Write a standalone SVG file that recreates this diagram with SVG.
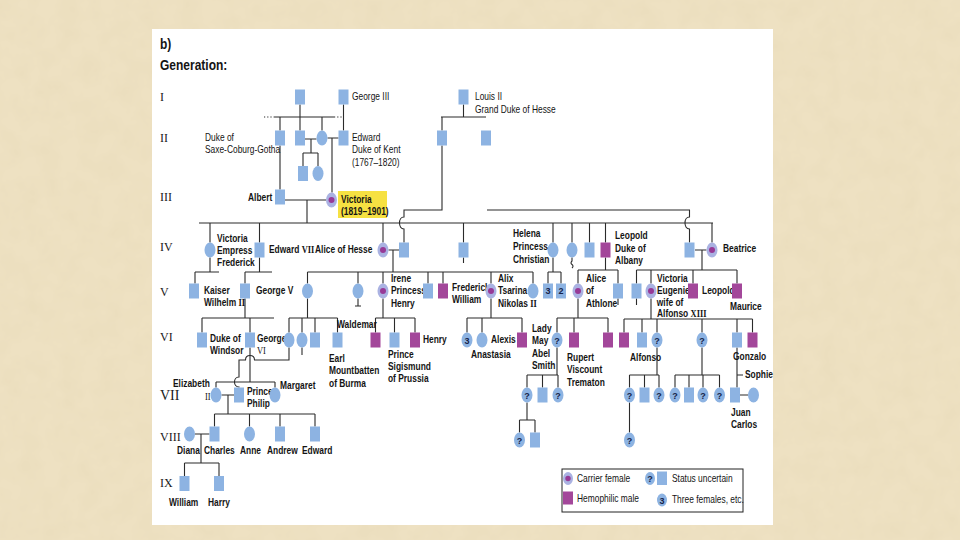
<svg xmlns="http://www.w3.org/2000/svg" width="960" height="540" viewBox="0 0 960 540">
<defs>
<style>
.bg{fill:#eee1c2}
.panel{fill:#fff}
.ln{fill:none;stroke:#2b2b2b;stroke-width:1.1}
.dot{fill:none;stroke:#2b2b2b;stroke-width:1.1;stroke-dasharray:1.2 2}
.sq{fill:#8db3e2}
.hm{fill:#a3479a}
.fe{fill:#8db3e2}
.ca{fill:#aab2e2}
.cd{fill:#973a97}
.t{font-family:"Liberation Sans",Arial,sans-serif;font-size:10.5px;fill:#141414;transform:scaleX(.8);transform-box:fill-box;transform-origin:0 0}
.b{font-weight:bold}
.r{font-family:"Liberation Serif","Times New Roman",serif}
.gen{font-family:"Liberation Serif","Times New Roman",serif;font-size:12px;fill:#1a1a1a}
.q{font-family:"Liberation Sans",Arial,sans-serif;font-size:9px;font-weight:bold;fill:#16244a;text-anchor:middle}
.hl{fill:#f6e142}
.lg{fill:#fff;stroke:#222;stroke-width:1}
</style>
<filter id="paper" x="0" y="0" width="100%" height="100%">
<feTurbulence type="fractalNoise" baseFrequency="0.05" numOctaves="3" seed="4"/>
<feColorMatrix values="0 0 0 0 0.80 0 0 0 0 0.70 0 0 0 0 0.48 0.8 0 0 0 -0.25"/>
</filter>
</defs>
<rect class="bg" x="0" y="0" width="960" height="540"/>
<rect x="0" y="0" width="960" height="540" filter="url(#paper)"/>
<rect class="panel" x="152" y="29" width="621" height="496"/>

<g id="titles">
<text class="t b" style="font-size:15px" x="160" y="49">b)</text>
<text class="t b" style="font-size:15px" x="160" y="70">Generation:</text>
<text class="gen" x="160" y="101">I</text>
<text class="gen" x="160" y="142">II</text>
<text class="gen" x="160" y="201">III</text>
<text class="gen" x="160" y="251">IV</text>
<text class="gen" x="160" y="296">V</text>
<text class="gen" x="160" y="341">VI</text>
<text class="gen" style="font-size:14px" x="160" y="400">VII</text>
<text class="gen" x="160" y="441">VIII</text>
<text class="gen" x="160" y="487">IX</text>
</g>

<g id="connectors">
<path class="ln" d="M300,104.5V130.5M274,117H334M280,117V130.5M322,117V130.5M343.5,104.5V130.5"/>
<path class="dot" d="M264,117H274M334,117H344"/>
<path class="ln" d="M463.5,104.5V117M441,117H486M442,117V130.5"/>
<path class="ln" d="M305,139H316.5M311,139V153M303,153H318M303,153V166M318,153V166"/>
<path class="ln" d="M327.5,138H338.5M332,138V192.5M280,145.5V189.5"/>
<path class="ln" d="M285,200H326M307,200V223M199,223H713"/>
<path class="ln" d="M210,223V242.5M259.5,223V242.5M383,223V242.5M463.5,223V242.5M553,223V242.5M572,223V242.5M589.5,223V242.5M605.5,223V242.5M712,223V242.5"/>
<path class="ln" d="M442,145.5V210H404V217C398,217 398,229 404,229V242.5"/>
<path class="ln" d="M487,210H689.5V217C683.5,217 683.5,229 689.5,229V242.5"/>
<path class="ln" d="M388.5,250H399M393,250V272M695,250H706.5M702,250V270M463.5,257.5V263"/>
<path class="ln" d="M572,257.5V261Q570,263 572,264.5Q574,266 572,268"/>
<path class="ln" d="M210,257.5V272M195,272H219M195,272V283.5"/>
<path class="ln" d="M259.5,257.5V272M245,272H272M245,272V283.5"/>
<path class="ln" d="M307.5,272H533M307.5,272V283.5M358,272V283.5M383,272V283.5M428,272V283.5M443,272V283.5M491,272V283.5M533,272V283.5"/>
<path class="ln" d="M553,257.5V272M548,272H561M548,272V283.5M561,272V283.5"/>
<path class="ln" d="M605.5,257.5V270M578,270H618M578,270V283.5M618,270V283.5"/>
<path class="ln" d="M636.5,270H737M636.5,270V283.5M651,270V283.5M693,270V283.5M737,270V283.5"/>
<path class="ln" d="M358,298.5V306M355,306H361M618,298.5V305M636.5,298.5V305"/>
<path class="ln" d="M245,298.5V318M202,318H274M202,318V332.5M250,318V332.5"/>
<path class="ln" d="M307.5,298.5V318M289,318H337.5M289,318V332.5M302,318V332.5M315,318V332.5M337.5,318V332.5"/>
<path class="ln" d="M383,298.5V318M375.5,318H415M375.5,318V332.5M394.5,318V332.5M415,318V332.5"/>
<path class="ln" d="M491,298.5V318M467,318H522M467,318V332.5M482,318V332.5M522,318V332.5"/>
<path class="ln" d="M578,298.5V318M557,318H608M557,318V332.5M574,318V332.5M608,318V332.5"/>
<path class="ln" d="M651,298.5V319M624,319H752.5M624,319V332.5M642,319V332.5M657,319V332.5M702,319V332.5M737,319V332.5M752.5,319V332.5"/>
<path class="ln" d="M302,347.5V355"/>
<path class="ln" d="M250,347.5V382M216,382H275M216,382V387.5M275,382V387.5"/>
<path class="ln" d="M289,347.5V360H254.5C254.5,354 245.5,354 245.5,360H239V377C233,377 233,387 239,387V387.5"/>
<path class="ln" d="M221.5,395H234M228,395V414M214.5,414H315M214.5,414V426.5M249.5,414V426.5M280,414V426.5M315,414V426.5"/>
<path class="ln" d="M195,434H209.5M201,434V463M184.5,463H219M184.5,463V476M219,463V476"/>
<path class="ln" d="M557,347.5V375M527,375H558M527,375V387.5M542.5,375V387.5M558,375V387.5"/>
<path class="ln" d="M527,402.5V420M519.5,420H535M519.5,420V432.5M535,420V432.5"/>
<path class="ln" d="M657,347.5V375M629.5,375H659M629.5,375V387.5M644.5,375V387.5M659,375V387.5M629.5,402.5V432.5"/>
<path class="ln" d="M702,347.5V375M675,375H719.5M675,375V387.5M689,375V387.5M703,375V387.5M719.5,375V387.5"/>
<path class="ln" d="M737,347.5V387.5M737,375H743M740,395H748"/>
</g>

<g id="n-gen1a"><rect class="sq" x="295" y="89.5" width="10" height="15"/></g>
<g id="n-george3"><rect class="sq" x="338.5" y="89.5" width="10" height="15"/><text class="t" x="352" y="100">George III</text></g>
<g id="n-louis2"><rect class="sq" x="458.5" y="89.5" width="10" height="15"/><text class="t" x="475" y="100">Louis II</text><text class="t" x="475" y="113">Grand Duke of Hesse</text></g>

<g id="n-dukescg"><rect class="sq" x="275" y="130.5" width="10" height="15"/><text class="t" x="205" y="141">Duke of</text><text class="t" x="205" y="153.5">Saxe-Coburg-Gotha</text></g>
<g id="n-gen2b"><rect class="sq" x="295" y="130.5" width="10" height="15"/></g>
<g id="n-gen2c"><ellipse class="fe" cx="322" cy="138" rx="5.5" ry="7.5"/></g>
<g id="n-edward"><rect class="sq" x="338.5" y="130.5" width="10" height="15"/><text class="t" x="352" y="141">Edward</text><text class="t" x="352" y="153.5">Duke of Kent</text><text class="t" x="352" y="166">(1767–1820)</text></g>
<g id="n-hesse2a"><rect class="sq" x="437" y="130.5" width="10" height="15"/></g>
<g id="n-hesse2b"><rect class="sq" x="481" y="130.5" width="10" height="15"/></g>

<g id="n-gen3a"><rect class="sq" x="298" y="166" width="10" height="15"/></g>
<g id="n-gen3b"><ellipse class="fe" cx="318" cy="173.5" rx="5.5" ry="7.5"/></g>
<g id="n-albert"><rect class="sq" x="275" y="189.5" width="10" height="15"/><text class="t b" x="248" y="201">Albert</text></g>
<g id="n-victoria"><rect class="hl" x="338" y="191" width="49" height="27"/><ellipse class="ca" cx="331.5" cy="200" rx="5.5" ry="7.5"/><circle class="cd" cx="331.5" cy="200" r="3"/><text class="t b" x="341" y="203">Victoria</text><text class="t b" x="341" y="215.5">(1819–1901)</text></g>

<g id="n-vicef"><ellipse class="fe" cx="210" cy="250" rx="5.5" ry="7.5"/><text class="t b" x="217" y="242.5">Victoria</text><text class="t b" x="217" y="254.5">Empress</text><text class="t b" x="217" y="266.5">Frederick</text></g>
<g id="n-edward7"><rect class="sq" x="254.5" y="242.5" width="10" height="15"/><text class="t b" x="269" y="253">Edward <tspan class="r">VII</tspan></text></g>
<g id="n-alice"><ellipse class="ca" cx="383" cy="250" rx="5.5" ry="7.5"/><circle class="cd" cx="383" cy="250" r="3"/><text class="t b" x="315" y="253">Alice of Hesse</text></g>
<g id="n-louis4"><rect class="sq" x="399" y="242.5" width="10" height="15"/></g>
<g id="n-alfred"><rect class="sq" x="458.5" y="242.5" width="10" height="15"/></g>
<g id="n-helena"><ellipse class="fe" cx="553" cy="250" rx="5.5" ry="7.5"/><text class="t b" x="513" y="237">Helena</text><text class="t b" x="513" y="250">Princess</text><text class="t b" x="513" y="263">Christian</text></g>
<g id="n-louise"><ellipse class="fe" cx="572" cy="250" rx="5.5" ry="7.5"/></g>
<g id="n-arthur"><rect class="sq" x="584.5" y="242.5" width="10" height="15"/></g>
<g id="n-leopold"><rect class="hm" x="600.5" y="242.5" width="10" height="15"/><text class="t b" x="615" y="239">Leopold</text><text class="t b" x="615" y="252">Duke of</text><text class="t b" x="615" y="264.5">Albany</text></g>
<g id="n-henryb"><rect class="sq" x="684.5" y="242.5" width="10" height="15"/></g>
<g id="n-beatrice"><ellipse class="ca" cx="712" cy="250" rx="5.5" ry="7.5"/><circle class="cd" cx="712" cy="250" r="3"/><text class="t b" x="723" y="252">Beatrice</text></g>

<g id="n-kaiser"><rect class="sq" x="189" y="283.5" width="10" height="15"/><text class="t b" x="204" y="294">Kaiser</text><text class="t b" x="204" y="306.5">Wilhelm <tspan class="r">II</tspan></text></g>
<g id="n-george5"><rect class="sq" x="240" y="283.5" width="10" height="15"/><text class="t b" x="256" y="294">George V</text></g>
<g id="n-vichesse"><ellipse class="fe" cx="307.5" cy="291" rx="5.5" ry="7.5"/></g>
<g id="n-ella"><ellipse class="fe" cx="358" cy="291" rx="5.5" ry="7.5"/></g>
<g id="n-irene"><ellipse class="ca" cx="383" cy="291" rx="5.5" ry="7.5"/><circle class="cd" cx="383" cy="291" r="3"/><text class="t b" x="391" y="282">Irene</text><text class="t b" x="391" y="294.5">Princess</text><text class="t b" x="391" y="307">Henry</text></g>
<g id="n-ernest"><rect class="sq" x="423" y="283.5" width="10" height="15"/></g>
<g id="n-frederick"><rect class="hm" x="438" y="283.5" width="10" height="15"/><text class="t b" x="452" y="291">Frederick</text><text class="t b" x="452" y="303.5">William</text></g>
<g id="n-alix"><ellipse class="ca" cx="491" cy="291" rx="5.5" ry="7.5"/><circle class="cd" cx="491" cy="291" r="3"/><text class="t b" x="498" y="282">Alix</text><text class="t b" x="498" y="294.5">Tsarina</text><text class="t b" x="498" y="307">Nikolas <tspan class="r">II</tspan></text></g>
<g id="n-marie"><ellipse class="fe" cx="533" cy="291" rx="5.5" ry="7.5"/></g>
<g id="n-hel3"><rect class="sq" x="543" y="283.5" width="10" height="15"/><text class="q" x="548" y="294">3</text></g>
<g id="n-hel2"><rect class="sq" x="556" y="283.5" width="10" height="15"/><text class="q" x="561" y="294">2</text></g>
<g id="n-athlone"><ellipse class="ca" cx="578" cy="291" rx="5.5" ry="7.5"/><circle class="cd" cx="578" cy="291" r="3"/><text class="t b" x="586" y="282">Alice</text><text class="t b" x="586" y="294.5">of</text><text class="t b" x="586" y="307">Athlone</text></g>
<g id="n-charlesed"><rect class="sq" x="613" y="283.5" width="10" height="15"/></g>
<g id="n-alexander"><rect class="sq" x="631.5" y="283.5" width="10" height="15"/></g>
<g id="n-vicugenie"><ellipse class="ca" cx="651" cy="291" rx="5.5" ry="7.5"/><circle class="cd" cx="651" cy="291" r="3"/><text class="t b" x="657" y="282">Victoria</text><text class="t b" x="657" y="294.5">Eugenie,</text><text class="t b" x="657" y="306.5">wife of</text><text class="t b" x="657" y="317.5">Alfonso <tspan class="r">XIII</tspan></text></g>
<g id="n-leopoldb"><rect class="hm" x="688" y="283.5" width="10" height="15"/><text class="t b" x="702" y="294.5">Leopold</text></g>
<g id="n-maurice"><rect class="hm" x="732" y="283.5" width="10" height="15"/><text class="t b" x="730" y="310">Maurice</text></g>

<g id="n-windsor"><rect class="sq" x="197" y="332.5" width="10" height="15"/><text class="t b" x="210" y="342">Duke of</text><text class="t b" x="210" y="354.5">Windsor</text></g>
<g id="n-george6"><rect class="sq" x="245" y="332.5" width="10" height="15"/><text class="t b" x="257" y="342">George</text><text class="t r" x="257" y="354.5">VI</text></g>
<g id="n-gen6a"><ellipse class="fe" cx="289" cy="340" rx="5.5" ry="7.5"/></g>
<g id="n-gen6b"><ellipse class="fe" cx="302" cy="340" rx="5.5" ry="7.5"/></g>
<g id="n-gen6c"><rect class="sq" x="310" y="332.5" width="10" height="15"/></g>
<g id="n-mountbatten"><rect class="sq" x="332.5" y="332.5" width="10" height="15"/><text class="t b" x="329" y="362">Earl</text><text class="t b" x="329" y="374.5">Mountbatten</text><text class="t b" x="329" y="387">of Burma</text></g>
<g id="n-waldemar"><rect class="hm" x="370.5" y="332.5" width="10" height="15"/><text class="t b" x="337" y="328">Waldemar</text></g>
<g id="n-sigismund"><rect class="sq" x="389.5" y="332.5" width="10" height="15"/><text class="t b" x="388" y="358">Prince</text><text class="t b" x="388" y="370">Sigismund</text><text class="t b" x="388" y="382">of Prussia</text></g>
<g id="n-henryp"><rect class="hm" x="410" y="332.5" width="10" height="15"/><text class="t b" x="423" y="343">Henry</text></g>
<g id="n-alix3"><ellipse class="fe" cx="467" cy="340" rx="5.5" ry="7.5"/><text class="q" x="467" y="343.5">3</text></g>
<g id="n-anastasia"><ellipse class="fe" cx="482" cy="340" rx="5.5" ry="7.5"/><text class="t b" x="471" y="358">Anastasia</text></g>
<g id="n-alexis"><rect class="hm" x="517" y="332.5" width="10" height="15"/><text class="t b" x="491" y="343">Alexis</text></g>
<g id="n-ladymay"><ellipse class="fe" cx="557" cy="340" rx="5.5" ry="7.5"/><text class="q" x="557" y="343.5">?</text><text class="t b" x="532" y="332">Lady</text><text class="t b" x="532" y="344.5">May</text><text class="t b" x="532" y="357">Abel</text><text class="t b" x="532" y="369.5">Smith</text></g>
<g id="n-rupert"><rect class="hm" x="569" y="332.5" width="10" height="15"/><text class="t b" x="567" y="361">Rupert</text><text class="t b" x="567" y="373.5">Viscount</text><text class="t b" x="567" y="386">Trematon</text></g>
<g id="n-mauricet"><rect class="hm" x="603" y="332.5" width="10" height="15"/></g>
<g id="n-alfonso"><rect class="hm" x="619" y="332.5" width="10" height="15"/><text class="t b" x="630" y="361">Alfonso</text></g>
<g id="n-gen6d"><rect class="sq" x="637" y="332.5" width="10" height="15"/></g>
<g id="n-gen6e"><ellipse class="fe" cx="657" cy="340" rx="5.5" ry="7.5"/><text class="q" x="657" y="343.5">?</text></g>
<g id="n-gen6f"><ellipse class="fe" cx="702" cy="340" rx="5.5" ry="7.5"/><text class="q" x="702" y="343.5">?</text></g>
<g id="n-gen6g"><rect class="sq" x="732" y="332.5" width="10" height="15"/></g>
<g id="n-gonzalo"><rect class="hm" x="747.5" y="332.5" width="10" height="15"/><text class="t b" x="733" y="360">Gonzalo</text></g>

<g id="n-elizabeth"><ellipse class="fe" cx="216" cy="395" rx="5.5" ry="7.5"/><text class="t b" x="173" y="387">Elizabeth</text><text class="t r" x="205" y="400">II</text></g>
<g id="n-philip"><rect class="sq" x="234" y="387.5" width="10" height="15"/><text class="t b" x="247" y="395">Prince</text><text class="t b" x="247" y="407.5">Philip</text></g>
<g id="n-margaret"><ellipse class="fe" cx="275" cy="395" rx="5.5" ry="7.5"/><text class="t b" x="280" y="389">Margaret</text></g>
<g id="n-gen7a"><ellipse class="fe" cx="527" cy="395" rx="5.5" ry="7.5"/><text class="q" x="527" y="398.5">?</text></g>
<g id="n-gen7b"><rect class="sq" x="537.5" y="387.5" width="10" height="15"/></g>
<g id="n-gen7c"><ellipse class="fe" cx="558" cy="395" rx="5.5" ry="7.5"/><text class="q" x="558" y="398.5">?</text></g>
<g id="n-gen7d"><ellipse class="fe" cx="629.5" cy="395" rx="5.5" ry="7.5"/><text class="q" x="629.5" y="398.5">?</text></g>
<g id="n-gen7e"><rect class="sq" x="639.5" y="387.5" width="10" height="15"/></g>
<g id="n-gen7f"><ellipse class="fe" cx="659" cy="395" rx="5.5" ry="7.5"/><text class="q" x="659" y="398.5">?</text></g>
<g id="n-gen7g"><ellipse class="fe" cx="675" cy="395" rx="5.5" ry="7.5"/><text class="q" x="675" y="398.5">?</text></g>
<g id="n-gen7h"><rect class="sq" x="684" y="387.5" width="10" height="15"/></g>
<g id="n-gen7i"><ellipse class="fe" cx="703" cy="395" rx="5.5" ry="7.5"/><text class="q" x="703" y="398.5">?</text></g>
<g id="n-gen7j"><ellipse class="fe" cx="719.5" cy="395" rx="5.5" ry="7.5"/><text class="q" x="719.5" y="398.5">?</text></g>
<g id="n-juancarlos"><rect class="sq" x="730" y="387.5" width="10" height="15"/><text class="t b" x="731" y="416">Juan</text><text class="t b" x="731" y="428">Carlos</text></g>
<g id="n-sophie"><ellipse class="fe" cx="753.5" cy="395" rx="5.5" ry="7.5"/><text class="t b" x="745" y="378">Sophie</text></g>

<g id="n-diana"><ellipse class="fe" cx="189.5" cy="434" rx="5.5" ry="7.5"/><text class="t b" x="177" y="454">Diana</text></g>
<g id="n-charles"><rect class="sq" x="209.5" y="426.5" width="10" height="15"/><text class="t b" x="204" y="454">Charles</text></g>
<g id="n-anne"><ellipse class="fe" cx="249.5" cy="434" rx="5.5" ry="7.5"/><text class="t b" x="240" y="454">Anne</text></g>
<g id="n-andrew"><rect class="sq" x="275" y="426.5" width="10" height="15"/><text class="t b" x="267" y="454">Andrew</text></g>
<g id="n-edwardp"><rect class="sq" x="310" y="426.5" width="10" height="15"/><text class="t b" x="302" y="454">Edward</text></g>
<g id="n-gen8a"><ellipse class="fe" cx="519.5" cy="440" rx="5.5" ry="7.5"/><text class="q" x="519.5" y="443.5">?</text></g>
<g id="n-gen8b"><rect class="sq" x="530" y="432.5" width="10" height="15"/></g>
<g id="n-gen8c"><ellipse class="fe" cx="629.5" cy="440" rx="5.5" ry="7.5"/><text class="q" x="629.5" y="443.5">?</text></g>

<g id="n-william"><rect class="sq" x="179.5" y="476" width="10" height="15"/><text class="t b" x="169" y="506">William</text></g>
<g id="n-harry"><rect class="sq" x="214" y="476" width="10" height="15"/><text class="t b" x="208" y="506">Harry</text></g>

<g id="legend">
<rect class="lg" x="562" y="469" width="181" height="43"/>
<ellipse class="ca" cx="568" cy="478.5" rx="5" ry="6.5"/><circle class="cd" cx="568" cy="478.5" r="2.7"/>
<text class="t" x="577" y="482">Carrier female</text>
<rect class="hm" x="563" y="491.5" width="10" height="13"/>
<text class="t" x="577" y="502">Hemophilic male</text>
<ellipse class="fe" cx="650" cy="478.5" rx="5" ry="6.5"/><text class="q" x="650" y="482">?</text>
<rect class="sq" x="657" y="471.5" width="10" height="13.5"/>
<text class="t" x="672" y="482">Status uncertain</text>
<ellipse class="fe" cx="662" cy="500" rx="5" ry="6.5"/><text class="q" x="662" y="503.5">3</text>
<text class="t" x="672" y="503">Three females, etc.</text>
</g>
</svg>
